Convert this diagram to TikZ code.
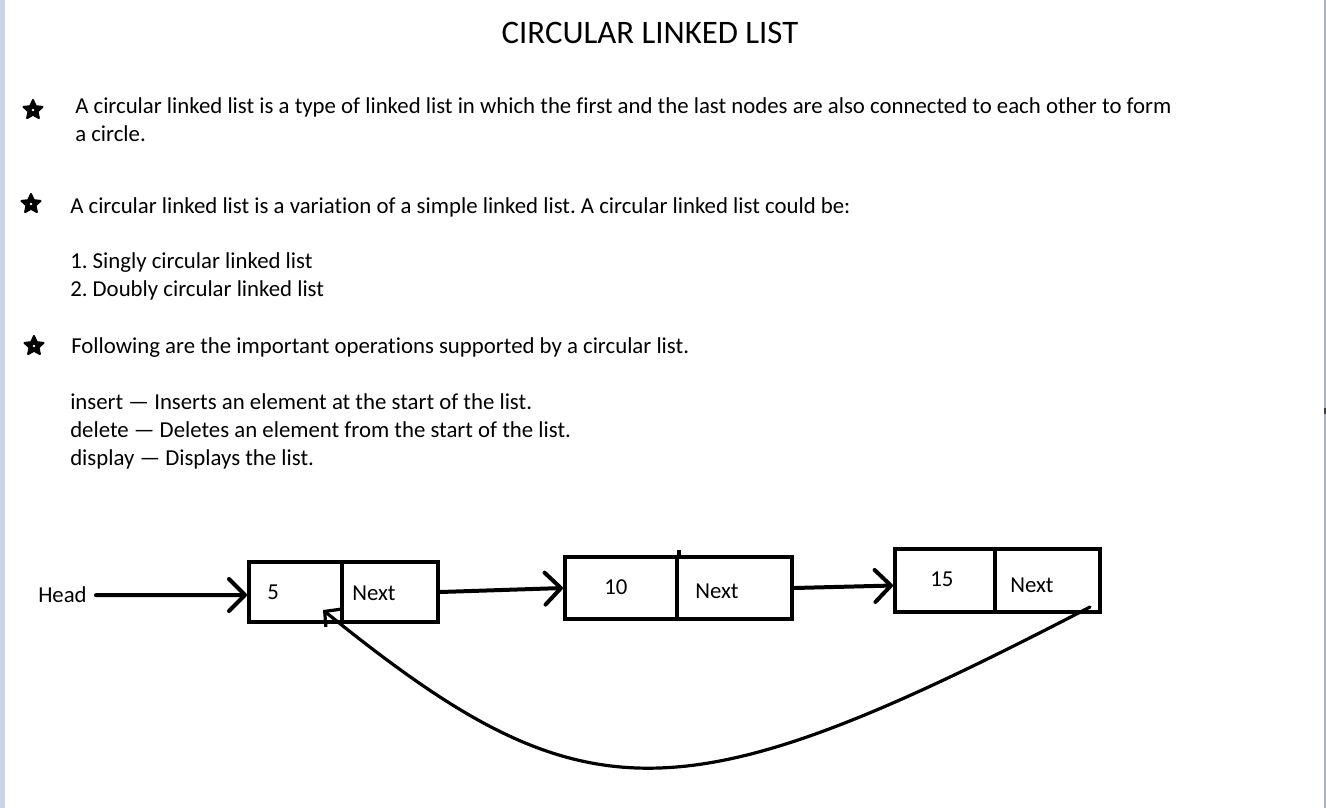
\documentclass[tikz,border=0pt]{standalone}
\usepackage{fontspec}
\setmainfont{Carlito}[Ligatures={TeX,NoCommon}]
\usetikzlibrary{shapes.geometric}
\usetikzlibrary{arrows.meta}
\usetikzlibrary{fit}
\usetikzlibrary{calc}

\definecolor{stripcol}{HTML}{CBD4E4}
\definecolor{edgecol}{HTML}{A9B1BE}
\frenchspacing

\begin{document}
\begin{tikzpicture}[x=0.75pt, y=-0.75pt,
            cell/.style = {draw, inner sep=0pt, line width=3pt},
            txt/.style = {anchor=base west, inner sep=0pt,
                font=\fontsize{17.1}{20}\selectfont},
            bullet/.style = {star, star points=5, star point ratio=2.1,
                minimum size=15pt, inner sep=0pt, fill=black, draw,
                line width=1.5pt, line join=round},
            arr/.style = {line width=3pt, line cap=round,
                -{Straight Barb[length=12pt,width=24pt,round]}},
            back/.style = {line width=2.4pt, line cap=round,
                -{Straight Barb[length=8pt,width=17pt]}}]
            \useasboundingbox (0,0) rectangle (1326,808);
            \fill[white] (0,0) rectangle (1326,808);
            \fill[stripcol] (0,0) rectangle (5,808);
            \fill[edgecol] (1324,0) rectangle (1326,808);
            \fill[black!75] (1324,408) rectangle (1326,414);
            % title
            \node[txt, anchor=base, font=\fontsize{24.6}{28}\selectfont] (title) at (650,43) {CIRCULAR LINKED LIST};
            % bullets
            \node[bullet] (s1) at (33,110) {};
            \node[bullet] (s2) at (31,204) {};
            \node[bullet] (s3) at (34,346) {};
            \foreach \s in {s1,s2,s3}
                \fill[white] (\s.center) circle (1.3);
            % text
            \node[txt] (t1) at (75,113) {A circular linked list is a type of linked list in which the first and the last nodes are also connected to each other to form};
            \node[txt] (t1b) at (75,141) {a circle.};
            \node[txt] (t2) at (70,213) {A circular linked list is a variation of a simple linked list. A circular linked list could be:};
            \node[txt] (l1) at (70,268) {1. Singly circular linked list};
            \node[txt] (l2) at (70,296) {2. Doubly circular linked list};
            \node[txt] (t3) at (71,353) {Following are the important operations supported by a circular list.};
            \node[txt] (o1) at (70,409) {insert \textemdash{} Inserts an element at the start of the list.};
            \node[txt] (o2) at (70,437) {delete \textemdash{} Deletes an element from the start of the list.};
            \node[txt] (o3) at (70,465) {display \textemdash{} Displays the list.};
            % list nodes
            \node[cell, fit={(249,562) (342,622)}] (d1) {};
            \node[cell, fit={(342,562) (438,622)}] (n1) {};
            \node[cell, fit={(565,557) (677,619)}] (d2) {};
            \node[cell, fit={(677,557) (792,619)}] (n2) {};
            \node[cell, fit={(895,549) (995,612)}] (d3) {};
            \node[cell, fit={(995,549) (1100,612)}] (n3) {};
            \draw[line width=3pt] (d2.north east) -- ++(0,-5);
            \node[txt] (v1) at (267,599) {5};
            \node[txt] (x1) at (352,600) {Next};
            \node[txt] (v2) at (604,594) {10};
            \node[txt] (x2) at (695,598) {Next};
            \node[txt] (v3) at (930,586) {15};
            \node[txt] (x3) at (1010,592) {Next};
            \node[txt] (head) at (38,602) {Head};
            % links
            \coordinate (c0) at ($(n3.south east)+(-12,-7)$);
            \coordinate (c1) at ($(d1.south east)+(-21,-14)$);
            \draw[arr] ($(head.east)+(9,1)$) -- ($(d1.west)+(0,3)$);
            \draw[arr] (n1.east) -- (d2.west);
            \draw[arr] (n2.east) -- ($(d3.west)+(0,5)$);
            \draw[back] (c0) .. controls (678,821) and (584,821) .. (c1);
        \end{tikzpicture}
\end{document}
